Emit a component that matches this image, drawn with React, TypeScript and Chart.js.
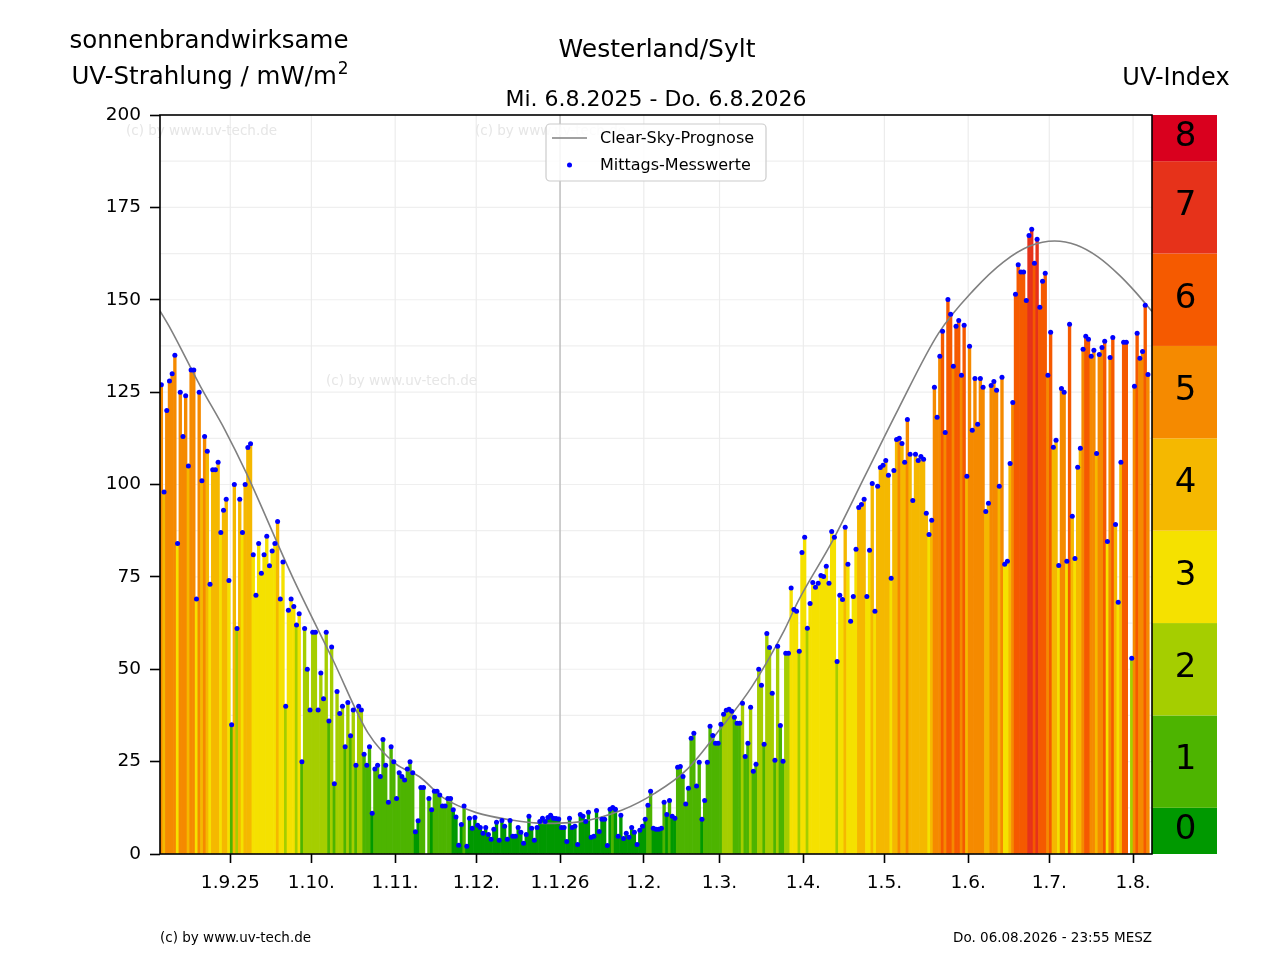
import React, { useEffect, useRef } from 'react';
import { Chart, registerables } from 'chart.js';

Chart.register(...registerables);

const FONT = "'DejaVu Sans', sans-serif";

// Daily noon UV readings (mW/m²), day 0 = 6.8.2025
const DAY_VALUES: (number | null)[] = [
  127, 98, 120, 128, 130, 135, 84, 125, 113, 124,
  105, 131, 131, 69, 125, 101, 113, 109, 73, 104,
  104, 106, 87, 93, 96, 74, 35, 100, 61, 96,
  87, 100, 110, 111, 81, 70, 84, 76, 81, 86,
  78, 82, 84, 90, 69, 79, 40, 66, 69, 67,
  62, 65, 25, 61, 50, 39, 60, 60, 39, 49,
  42, 60, 36, 56, 19, 44, 38, 40, 29, 41,
  32, 39, 24, 40, 39, 27, 24, 29, 11, 23,
  24, 21, 31, 24, 14, 29, 25, 15, 22, 21,
  20, 23, 25, 22, 6, 9, 18, 18, null, 15,
  12, 17, 17, 16, 13, 13, 15, 15, 12, 10,
  2.4, 8, 13, 2.1, 9.7, 7, 9.9, 7.8, 7.2, 5.6,
  7.2, 5.3, 4, 6.7, 8.6, 3.7, 9.1, 7.5, 4, 9.1,
  4.8, 4.8, 7.2, 5.9, 2.9, 5.3, 10.2, 7, 3.7, 7.2,
  8.8, 9.7, 8.8, 9.9, 10.5, 9.7, 9.6, 9.5, 7.2, 7.2,
  3.4, 9.7, 7.2, 7.5, 2.6, 10.7, 10.2, 8.8, 11.3, 4.5,
  4.8, 11.8, 6.1, 9.4, 9.4, 2.3, 12.1, 12.6, 12.1, 4.8,
  10.5, 4.2, 5.6, 4.5, 7.2, 5.9, 2.6, 6.4, 7.5, 9.4,
  13.2, 17, 7, 6.7, 6.7, 7, 14, 10.7, 14.5, 10.2,
  9.7, 23.5, 23.7, 21, 13.5, 17.8, 31.3, 32.7, 18.4, 24.8,
  9.4, 14.5, 24.8, 34.6, 32.1, 30, 30, 35.1, 37.8, 38.9,
  39.2, 38.6, 37, 35.4, 35.4, 40.8, 26.4, 30, 39.7, 22.4,
  24.3, 50, 45.7, 29.7, 59.7, 55.9, 43.5, 25.4, 56.2, 34.8,
  25.1, 54.3, 54.3, 72, 66.2, 65.7, 54.9, 81.6, 85.7, 61.1,
  67.8, 73.5, 72.2, 73.3, 75.4, 75.1, 77.9, 73.3, 87.3, 85.7,
  52.1, 70, 68.9, 88.4, 78.4, 63, 69.7, 82.5, 93.8, 94.6,
  96, 69.7, 82.2, 100.3, 65.7, 99.5, 104.6, 105.2, 106.5, 102.5,
  74.6, 103.8, 112.2, 112.5, 111.1, 106, 117.6, 108.2, 95.7, 108.2,
  106.5, 107.6, 106.8, 92.2, 86.5, 90.3, 126.3, 118.2, 134.7, 141.5,
  114.1, 150.1, 146.1, 132, 142.8, 144.4, 129.6, 143.1, 102.2, 137.4,
  114.7, 128.7, 116.3, 128.7, 126.3, 92.7, 94.9, 126.8, 127.9, 125.5,
  99.5, 129, 78.4, 79.2, 105.7, 122.2, 151.5, 159.5, 157.5, 157.5,
  149.8, 167.4, 169.1, 159.9, 166.4, 148, 155, 157.2, 129.6, 141.2,
  110.1, 112, 78.1, 126, 125, 79.2, 143.4, 91.4, 80, 104.7,
  109.8, 136.6, 140.1, 139.3, 134.7, 136.3, 108.4, 135.2, 137.1, 138.8,
  84.6, 134.4, 139.8, 89.2, 68.1, 106, 138.5, 138.5, null, 53,
  126.6, 140.9, 134.2, 136, 148.5, 129.8, null,
];

// Clear-sky forecast curve, read at these days
const CLEAR_DAYS = [0, 4, 15, 24, 32, 49, 64, 77, 87, 96, 105, 117, 130, 142, 155, 171, 183, 195, 207, 219, 231, 236, 249, 261, 273, 288, 301, 312, 322, 331, 339, 347, 355, 361, 367];
const CLEAR_VALUES = [147, 142, 126.5, 114.8, 103, 75, 52.5, 32.7, 24.5, 20.9, 15.1, 11.2, 9.2, 8.3, 8.7, 11.9, 16.4, 22.9, 33.6, 45.3, 60.6, 68.3, 85, 102.6, 120.2, 140.9, 152.6, 160.2, 164.6, 165.9, 164.8, 161.6, 156.6, 152, 146.8];

const TICK_DAYS = [26, 56, 87, 117, 148, 179, 207, 238, 268, 299, 329, 360];
const TICK_LABELS = ['1.9.25', '1.10.', '1.11.', '1.12.', '1.1.26', '1.2.', '1.3.', '1.4.', '1.5.', '1.6.', '1.7.', '1.8.'];
const YEAR_DAY = 148;
const X_MAX = 367;

const UV_LEVELS = [0, 1, 2, 3, 4, 5, 6, 7, 8];
const UV_COLORS = ['#009900', '#4db400', '#a5ce00', '#f5e100', '#f5b800', '#f58a00', '#f55a00', '#e6321a', '#d9001e'];

const TITLE = 'Westerland/Sylt';
const SUBTITLE = 'Mi. 6.8.2025 - Do. 6.8.2026';
const LEFT_LABEL_1 = 'sonnenbrandwirksame';
const LEFT_LABEL_2 = 'UV-Strahlung / mW/m';
const RIGHT_LABEL = 'UV-Index';
const FOOT_LEFT = '(c) by www.uv-tech.de';
const FOOT_RIGHT = 'Do. 06.08.2026 - 23:55 MESZ';
const WATERMARK = '(c) by www.uv-tech.de';
const LEGEND_LINE = 'Clear-Sky-Prognose';
const LEGEND_DOT = 'Mittags-Messwerte';

const levelOf = (v: number) => Math.max(0, Math.min(8, Math.round(v / 25)));

const decorPlugin = {
  id: 'decor',
  beforeDatasetsDraw(chart: any) {
    const { ctx, chartArea, scales } = chart;
    const { left, right, top, bottom } = chartArea;
    const x = scales.x;
    const y = scales.y;
    ctx.save();
    ctx.lineWidth = 1.2;
    ctx.strokeStyle = '#efefef';
    for (let v = 12.5; v < 200; v += 12.5) {
      const py = y.getPixelForValue(v);
      ctx.beginPath();
      ctx.moveTo(left, py);
      ctx.lineTo(right, py);
      ctx.stroke();
    }
    TICK_DAYS.forEach((d) => {
      const px = x.getPixelForValue(d);
      ctx.beginPath();
      if (d === YEAR_DAY) {
        ctx.strokeStyle = '#c2c2c2';
        ctx.lineWidth = 1.6;
      } else {
        ctx.strokeStyle = '#ececec';
        ctx.lineWidth = 1.2;
      }
      ctx.moveTo(px, top);
      ctx.lineTo(px, bottom);
      ctx.stroke();
    });
    ctx.fillStyle = '#e6e6e6';
    ctx.font = `13.5px ${FONT}`;
    ctx.textAlign = 'left';
    ctx.textBaseline = 'middle';
    ctx.fillText(WATERMARK, 126, 131);
    ctx.fillText(WATERMARK, 475, 131);
    ctx.fillText(WATERMARK, 326, 381);
    ctx.restore();
  },
  afterDatasetsDraw(chart: any) {
    const { ctx, chartArea, scales } = chart;
    const { left, right, top, bottom } = chartArea;
    const y = scales.y;
    ctx.save();
    const bandL = right;
    const bandR = 1217;
    UV_LEVELS.forEach((k) => {
      const v0 = Math.max(0, (k - 0.5) * 25);
      const v1 = Math.min(200, (k + 0.5) * 25);
      const p0 = y.getPixelForValue(v0);
      const p1 = y.getPixelForValue(v1);
      ctx.fillStyle = UV_COLORS[k];
      ctx.fillRect(bandL, p1, bandR - bandL, p0 - p1);
      ctx.fillStyle = '#000';
      ctx.font = `34px ${FONT}`;
      ctx.textAlign = 'center';
      ctx.textBaseline = 'middle';
      ctx.fillText(String(k), (bandL + bandR) / 2 + 1, (p0 + p1) / 2 - 1);
    });
    ctx.strokeStyle = '#000';
    ctx.lineWidth = 1.6;
    ctx.strokeRect(left, top, right - left, bottom - top);

    const lx = 546, ly = 124, lw = 220, lh = 57;
    ctx.beginPath();
    ctx.roundRect(lx, ly, lw, lh, 4);
    ctx.fillStyle = 'rgba(255,255,255,0.85)';
    ctx.fill();
    ctx.strokeStyle = '#cccccc';
    ctx.lineWidth = 1.2;
    ctx.stroke();
    ctx.beginPath();
    ctx.strokeStyle = '#808080';
    ctx.lineWidth = 1.6;
    ctx.moveTo(552, 138);
    ctx.lineTo(587, 138);
    ctx.stroke();
    ctx.beginPath();
    ctx.fillStyle = '#0000ff';
    ctx.arc(569.5, 165, 2.5, 0, Math.PI * 2);
    ctx.fill();
    ctx.fillStyle = '#000';
    ctx.font = `16px ${FONT}`;
    ctx.textAlign = 'left';
    ctx.textBaseline = 'middle';
    ctx.fillText(LEGEND_LINE, 600, 138.5);
    ctx.fillText(LEGEND_DOT, 600, 165.5);

    ctx.textBaseline = 'alphabetic';
    ctx.textAlign = 'center';
    ctx.font = `25px ${FONT}`;
    ctx.fillText(TITLE, 657, 57);
    ctx.font = `22px ${FONT}`;
    ctx.fillText(SUBTITLE, 656, 106);
    ctx.font = `24.5px ${FONT}`;
    ctx.fillText(LEFT_LABEL_1, 209, 48);
    const w1 = ctx.measureText(LEFT_LABEL_2).width;
    ctx.font = `17px ${FONT}`;
    const w2 = ctx.measureText('2').width;
    const sx = 210 - (w1 + w2 + 1) / 2;
    ctx.textAlign = 'left';
    ctx.font = `24.5px ${FONT}`;
    ctx.fillText(LEFT_LABEL_2, sx, 84);
    ctx.font = `17px ${FONT}`;
    ctx.fillText('2', sx + w1 + 1, 74);
    ctx.textAlign = 'center';
    ctx.font = `24px ${FONT}`;
    ctx.fillText(RIGHT_LABEL, 1176, 85);

    ctx.font = `13.5px ${FONT}`;
    ctx.textBaseline = 'middle';
    ctx.textAlign = 'left';
    ctx.fillText(FOOT_LEFT, 160, 938);
    ctx.textAlign = 'right';
    ctx.fillText(FOOT_RIGHT, 1152, 938);
    ctx.restore();
  },
};

export default function App() {
  const ref = useRef<HTMLCanvasElement | null>(null);
  useEffect(() => {
    if (!ref.current) return;
    const barData = DAY_VALUES.map((v, i) => ({ x: i + 0.5, y: v }));
    const barColors = DAY_VALUES.map((v) => (v == null ? 'rgba(0,0,0,0)' : UV_COLORS[levelOf(v)]));
    const clearData = CLEAR_DAYS.map((d, i) => ({ x: d, y: CLEAR_VALUES[i] }));
    const chart = new Chart(ref.current, {
      type: 'bar',
      data: {
        datasets: [
          {
            type: 'line',
            label: LEGEND_DOT,
            data: barData,
            showLine: false,
            pointRadius: 2.5,
            pointBackgroundColor: '#0000ff',
            pointBorderWidth: 0,
            pointHoverRadius: 2.5,
            order: 0,
          } as any,
          {
            type: 'line',
            label: LEGEND_LINE,
            data: clearData,
            borderColor: '#808080',
            borderWidth: 1.6,
            pointRadius: 0,
            cubicInterpolationMode: 'monotone',
            fill: false,
            order: 1,
          } as any,
          {
            type: 'bar',
            label: 'UV',
            data: barData,
            backgroundColor: barColors,
            borderWidth: 0,
            barPercentage: 1,
            categoryPercentage: 1,
            order: 2,
          } as any,
        ],
      },
      options: {
        responsive: false,
        devicePixelRatio: 1,
        animation: false,
        events: [],
        layout: { padding: { left: 0, top: 115, right: 128, bottom: 0 } },
        plugins: {
          legend: { display: false },
          title: { display: false },
          tooltip: { enabled: false },
        },
        scales: {
          x: {
            type: 'linear',
            min: 0,
            max: X_MAX,
            offset: false,
            afterBuildTicks: (s: any) => {
              s.ticks = TICK_DAYS.map((v) => ({ value: v }));
            },
            afterFit: (s: any) => {
              s.height = 106;
            },
            border: { display: false },
            grid: { offset: false, drawOnChartArea: false, drawTicks: true, tickLength: 9, tickColor: '#000', tickWidth: 1.6 },
            ticks: {
              autoSkip: false,
              maxRotation: 0,
              align: 'center',
              color: '#000',
              padding: 9,
              font: { family: FONT, size: 18.5 },
              callback: (_v: any, i: number) => TICK_LABELS[i],
            },
          },
          y: {
            type: 'linear',
            min: 0,
            max: 200,
            afterFit: (s: any) => {
              s.width = 160;
            },
            border: { display: false },
            grid: { drawOnChartArea: false, drawTicks: true, tickLength: 10, tickColor: '#000', tickWidth: 1.6 },
            ticks: {
              stepSize: 25,
              color: '#000',
              padding: 9,
              font: { family: FONT, size: 18.5 },
            },
          },
        },
      },
      plugins: [decorPlugin],
    } as any);
    return () => chart.destroy();
  }, []);
  return (
    <div style={{ position: 'absolute', left: 0, top: 0, width: 1280, height: 960, background: '#fff' }}>
      <canvas ref={ref} width={1280} height={960} style={{ display: 'block', width: 1280, height: 960 }} />
    </div>
  );
}
